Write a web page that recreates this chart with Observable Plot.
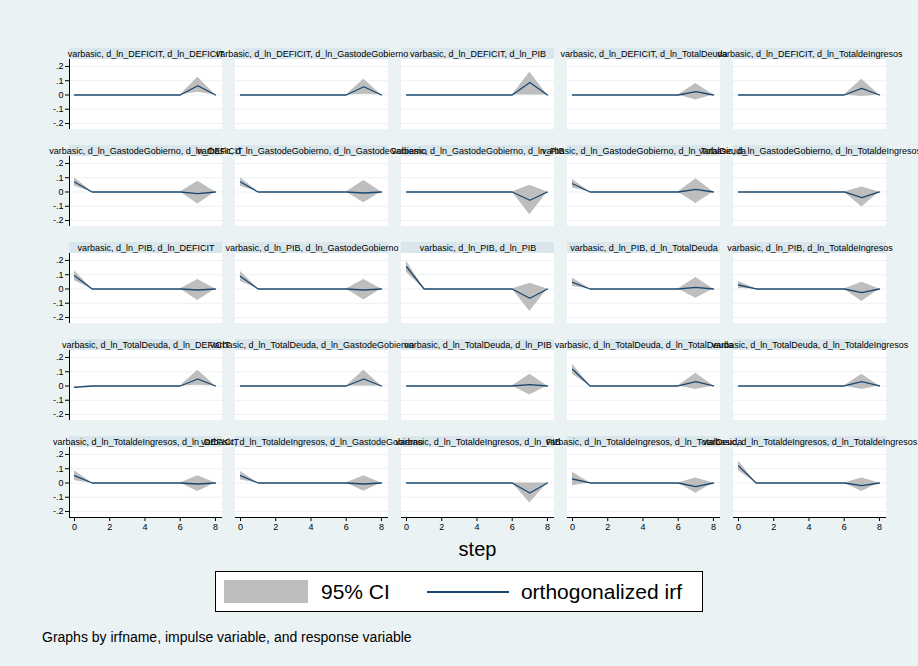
<!DOCTYPE html>
<html>
<head>
<meta charset="utf-8">
<script src="https://cdn.jsdelivr.net/npm/d3@7"></script>
<script src="https://cdn.jsdelivr.net/npm/@observablehq/plot@0.6"></script>
<style>
  html, body { margin: 0; padding: 0; background: #EAF2F3; }
  #wrap { position: relative; width: 918px; height: 666px; background: #EAF2F3; font-family: "Liberation Sans", Arial, sans-serif; color: #000; overflow: hidden; }
  #chart { position: absolute; left: 0; top: 0; }
  #step { position: absolute; left: 68px; width: 819px; top: 538px; text-align: center; font-size: 20px; line-height: 22px; }
  #legend { position: absolute; left: 215px; top: 571px; width: 488px; height: 41px; box-sizing: border-box; background: #fff; border: 1px solid #000; display: flex; align-items: center; font-size: 21px; }
  #legend .sw { width: 84px; height: 23px; background: #BEBEBE; margin-left: 8px; flex: none; }
  #legend .t1 { margin-left: 13px; }
  #legend .ln { width: 82px; height: 0; border-top: 2px solid #1A476F; margin-left: 37px; flex: none; }
  #legend .t2 { margin-left: 12px; white-space: nowrap; }
  #caption { position: absolute; left: 42px; top: 629px; font-size: 14px; line-height: 16px; white-space: nowrap; }
</style>
</head>
<body>
<div id="wrap">
  <div id="chart"></div>
  <div id="step">step</div>
  <div id="legend"><div class="sw"></div><div class="t1">95% CI</div><div class="ln"></div><div class="t2">orthogonalized irf</div></div>
  <div id="caption">Graphs by irfname, impulse variable, and response variable</div>
</div>
<script>
// ---- data ----
const irfName = "varbasic";
const variables = ["d_ln_DEFICIT", "d_ln_GastodeGobierno", "d_ln_PIB", "d_ln_TotalDeuda", "d_ln_TotaldeIngresos"];
const steps = [0, 1, 2, 3, 4, 5, 6, 7, 8];
const xTicks = [0, 2, 4, 6, 8];
const yTicks = [-0.2, -0.1, 0, 0.1, 0.2];

// orthogonalized irf, one array per (impulse, response) panel, row-major by impulse
const irfValues = [
  [0, 0, 0, 0, 0, 0, 0, 0.065, 0],
  [0, 0, 0, 0, 0, 0, 0, 0.058, 0],
  [0, 0, 0, 0, 0, 0, 0, 0.088, 0],
  [0, 0, 0, 0, 0, 0, 0, 0.023, 0],
  [0, 0, 0, 0, 0, 0, 0, 0.047, 0],
  [0.07, 0, 0, 0, 0, 0, 0, -0.012, 0],
  [0.07, 0, 0, 0, 0, 0, 0, -0.007, 0],
  [0, 0, 0, 0, 0, 0, 0, -0.058, 0],
  [0.058, 0, 0, 0, 0, 0, 0, 0.019, 0],
  [0, 0, 0, 0, 0, 0, 0, -0.04, 0],
  [0.093, 0, 0, 0, 0, 0, 0, -0.007, 0],
  [0.088, 0, 0, 0, 0, 0, 0, -0.007, 0],
  [0.156, 0, 0, 0, 0, 0, 0, -0.065, 0],
  [0.047, 0, 0, 0, 0, 0, 0, 0.012, 0],
  [0.028, 0, 0, 0, 0, 0, 0, -0.026, 0],
  [-0.01, 0, 0, 0, 0, 0, 0, 0.049, 0],
  [0, 0, 0, 0, 0, 0, 0, 0.049, 0],
  [0, 0, 0, 0, 0, 0, 0, 0.01, 0],
  [0.118, 0, 0, 0, 0, 0, 0, 0.03, 0],
  [0, 0, 0, 0, 0, 0, 0, 0.03, 0],
  [0.051, 0, 0, 0, 0, 0, 0, -0.007, 0],
  [0.051, 0, 0, 0, 0, 0, 0, -0.007, 0],
  [0, 0, 0, 0, 0, 0, 0, -0.07, 0],
  [0.028, 0, 0, 0, 0, 0, 0, -0.026, 0],
  [0.12, 0, 0, 0, 0, 0, 0, -0.019, 0]
];
// 95% CI lower bound
const ciLower = [
  [0, 0, 0, 0, 0, 0, 0, 0.02, 0],
  [0, 0, 0, 0, 0, 0, 0, 0.005, 0],
  [0, 0, 0, 0, 0, 0, 0, 0.0, 0],
  [0, 0, 0, 0, 0, 0, 0, -0.035, 0],
  [0, 0, 0, 0, 0, 0, 0, -0.01, 0],
  [0.04, 0, 0, 0, 0, 0, 0, -0.085, 0],
  [0.04, 0, 0, 0, 0, 0, 0, -0.075, 0],
  [0, 0, 0, 0, 0, 0, 0, -0.16, 0],
  [0.028, 0, 0, 0, 0, 0, 0, -0.08, 0],
  [0, 0, 0, 0, 0, 0, 0, -0.105, 0],
  [0.058, 0, 0, 0, 0, 0, 0, -0.08, 0],
  [0.053, 0, 0, 0, 0, 0, 0, -0.077, 0],
  [0.116, 0, 0, 0, 0, 0, 0, -0.158, 0],
  [0.017, 0, 0, 0, 0, 0, 0, -0.065, 0],
  [0.003, 0, 0, 0, 0, 0, 0, -0.088, 0],
  [-0.015, 0, 0, 0, 0, 0, 0, 0.005, 0],
  [0, 0, 0, 0, 0, 0, 0, 0.0, 0],
  [0, 0, 0, 0, 0, 0, 0, -0.063, 0],
  [0.083, 0, 0, 0, 0, 0, 0, -0.025, 0],
  [0, 0, 0, 0, 0, 0, 0, -0.025, 0],
  [0.016, 0, 0, 0, 0, 0, 0, -0.06, 0],
  [0.021, 0, 0, 0, 0, 0, 0, -0.058, 0],
  [0, 0, 0, 0, 0, 0, 0, -0.14, 0],
  [-0.02, 0, 0, 0, 0, 0, 0, -0.072, 0],
  [0.085, 0, 0, 0, 0, 0, 0, -0.06, 0]
];
// 95% CI upper bound
const ciUpper = [
  [0, 0, 0, 0, 0, 0, 0, 0.125, 0],
  [0, 0, 0, 0, 0, 0, 0, 0.11, 0],
  [0, 0, 0, 0, 0, 0, 0, 0.16, 0],
  [0, 0, 0, 0, 0, 0, 0, 0.08, 0],
  [0, 0, 0, 0, 0, 0, 0, 0.11, 0],
  [0.1, 0, 0, 0, 0, 0, 0, 0.075, 0],
  [0.1, 0, 0, 0, 0, 0, 0, 0.08, 0],
  [0, 0, 0, 0, 0, 0, 0, 0.047, 0],
  [0.088, 0, 0, 0, 0, 0, 0, 0.093, 0],
  [0, 0, 0, 0, 0, 0, 0, 0.035, 0],
  [0.128, 0, 0, 0, 0, 0, 0, 0.067, 0],
  [0.123, 0, 0, 0, 0, 0, 0, 0.067, 0],
  [0.196, 0, 0, 0, 0, 0, 0, 0.04, 0],
  [0.077, 0, 0, 0, 0, 0, 0, 0.08, 0],
  [0.053, 0, 0, 0, 0, 0, 0, 0.047, 0],
  [-0.005, 0, 0, 0, 0, 0, 0, 0.11, 0],
  [0, 0, 0, 0, 0, 0, 0, 0.11, 0],
  [0, 0, 0, 0, 0, 0, 0, 0.083, 0],
  [0.153, 0, 0, 0, 0, 0, 0, 0.09, 0],
  [0, 0, 0, 0, 0, 0, 0, 0.083, 0],
  [0.086, 0, 0, 0, 0, 0, 0, 0.05, 0],
  [0.081, 0, 0, 0, 0, 0, 0, 0.05, 0],
  [0, 0, 0, 0, 0, 0, 0, 0.0, 0],
  [0.076, 0, 0, 0, 0, 0, 0, 0.035, 0],
  [0.155, 0, 0, 0, 0, 0, 0, 0.035, 0]
];

// ---- build tables ----
const panels = [];
const rows = [];
variables.forEach((imp, i) => {
  variables.forEach((resp, j) => {
    const p = i * variables.length + j;
    panels.push({impulse: imp, response: resp, title: `${irfName}, ${imp}, ${resp}`});
    steps.forEach((s, k) => {
      rows.push({impulse: imp, response: resp, step: s, irf: irfValues[p][k], lo: ciLower[p][k], hi: ciUpper[p][k]});
    });
  });
});

// panel geometry in data units (plot region + title strip above it)
const X0 = -0.284, X1 = 8.4;
const Y0 = -0.242, Y1 = 0.249, YT = 0.326;
const fmt = d => d === 0 ? "0" : String(d).replace("0.", ".");
const firstCol = panels.filter(p => p.response === variables[0]);
const lastRow = panels.filter(p => p.impulse === variables[variables.length - 1]);

const chart = Plot.plot({
  width: 918,
  height: 540,
  marginLeft: 68,
  marginRight: 31,
  marginTop: 48,
  marginBottom: 23,
  style: {background: "transparent", fontFamily: "'Liberation Sans', Arial, sans-serif", fontSize: "9px", color: "#000"},
  x: {domain: [X0, X1]},
  y: {domain: [Y0, YT]},
  fx: {domain: variables, paddingInner: 0.081, paddingOuter: 0, axis: null},
  fy: {domain: variables, paddingInner: 0.165, paddingOuter: 0, axis: null},
  marks: [
    Plot.rect(panels, {x1: X0, x2: X1, y1: Y0, y2: Y1, fx: "response", fy: "impulse", fill: "#FFFFFF"}),
    Plot.rect(panels, {x1: X0, x2: X1, y1: Y1, y2: YT, fx: "response", fy: "impulse", fill: "#D9E6EB"}),
    Plot.ruleY(yTicks, {stroke: "#EAF2F3", strokeWidth: 1}),
    Plot.areaY(rows, {x: "step", y1: "lo", y2: "hi", fx: "response", fy: "impulse", fill: "#BEBEBE", fillOpacity: 1}),
    Plot.lineY(rows, {x: "step", y: "irf", fx: "response", fy: "impulse", stroke: "#1A476F", strokeWidth: 1.3}),
    Plot.text(panels, {x: (X0 + X1) / 2, y: (Y1 + YT) / 2, text: "title", fx: "response", fy: "impulse", fontSize: 9, fill: "#000"}),
    Plot.ruleX(firstCol, {x: X0, y1: Y0, y2: Y1, fx: "response", fy: "impulse", stroke: "#000", strokeWidth: 1}),
    Plot.ruleY(lastRow, {y: Y0, x1: X0, x2: X1, fx: "response", fy: "impulse", stroke: "#000", strokeWidth: 1}),
    Plot.axisY(yTicks, {anchor: "left", facetAnchor: "left", tickSize: 4, tickPadding: 2, tickFormat: fmt, label: null, fontSize: 9}),
    Plot.axisX(xTicks, {anchor: "bottom", facetAnchor: "bottom", tickSize: 4, tickPadding: 2, tickFormat: d => String(d), label: null, fontSize: 9})
  ]
});
document.getElementById("chart").appendChild(chart);
</script>
</body>
</html>
